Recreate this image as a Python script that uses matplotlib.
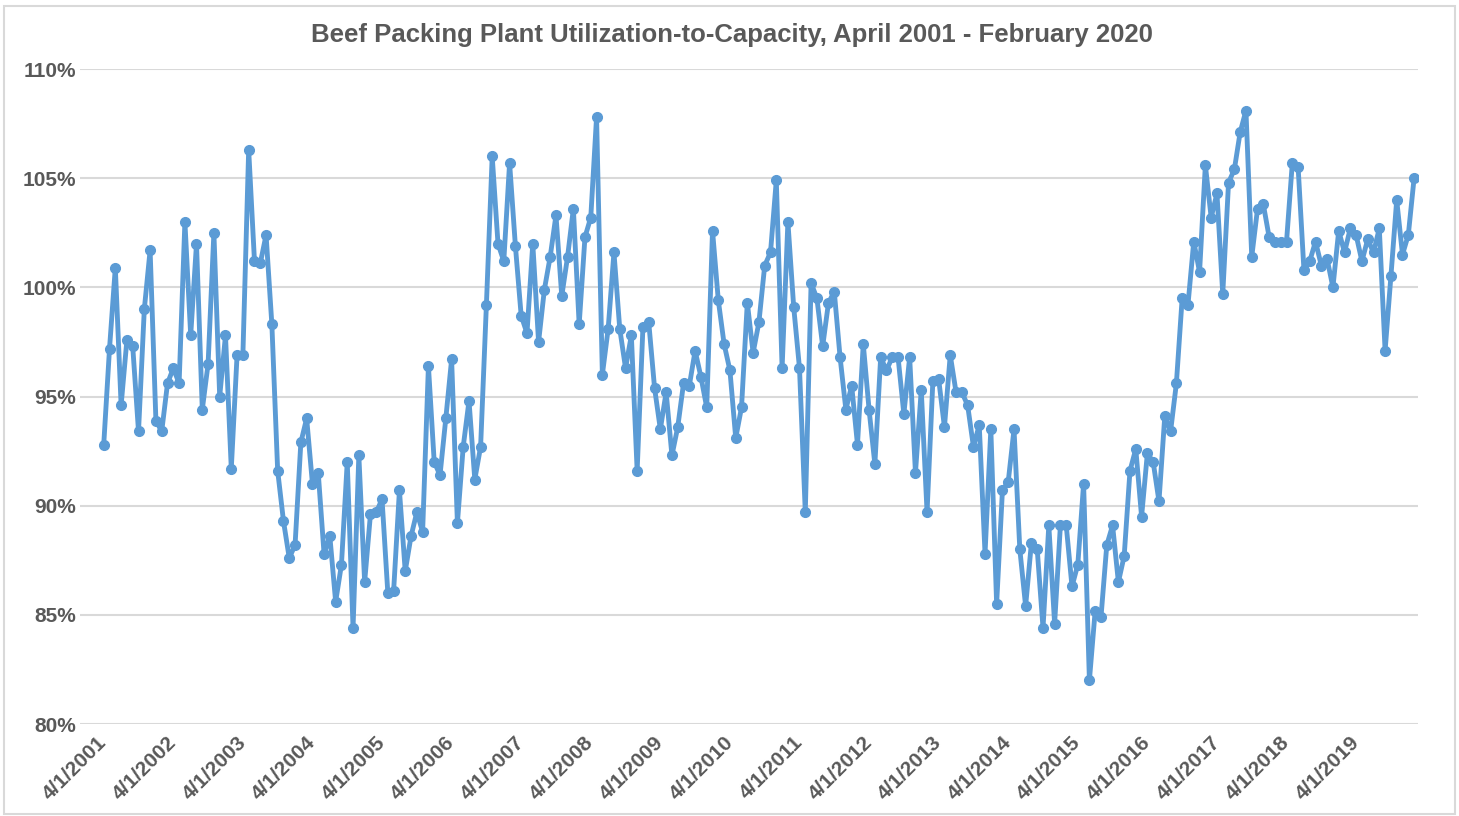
import matplotlib
matplotlib.use("Agg")
import matplotlib.pyplot as plt
from matplotlib.patches import Rectangle
import numpy as np

# monthly utilization-to-capacity (%), April 2001 .. February 2020
util = [
    92.8, 97.2, 100.9, 94.6, 97.6, 97.3, 93.4, 99.0, 101.7, 93.9, 93.4, 95.6,   # 2001-02
    96.3, 95.6, 103.0, 97.8, 102.0, 94.4, 96.5, 102.5, 95.0, 97.8, 91.7, 96.9,  # 2002-03
    96.9, 106.3, 101.2, 101.1, 102.4, 98.3, 91.6, 89.3, 87.6, 88.2, 92.9, 94.0, # 2003-04
    91.0, 91.5, 87.8, 88.6, 85.6, 87.3, 92.0, 84.4, 92.3, 86.5, 89.6, 89.7,     # 2004-05
    90.3, 86.0, 86.1, 90.7, 87.0, 88.6, 89.7, 88.8, 96.4, 92.0, 91.4, 94.0,     # 2005-06
    96.7, 89.2, 92.7, 94.8, 91.2, 92.7, 99.2, 106.0, 102.0, 101.2, 105.7, 101.9, # 2006-07
    98.7, 97.9, 102.0, 97.5, 99.9, 101.4, 103.3, 99.6, 101.4, 103.6, 98.3, 102.3, # 2007-08
    103.2, 107.8, 96.0, 98.1, 101.6, 98.1, 96.3, 97.8, 91.6, 98.2, 98.4, 95.4,  # 2008-09
    93.5, 95.2, 92.3, 93.6, 95.6, 95.5, 97.1, 95.9, 94.5, 102.6, 99.4, 97.4,    # 2009-10
    96.2, 93.1, 94.5, 99.3, 97.0, 98.4, 101.0, 101.6, 104.9, 96.3, 103.0, 99.1, # 2010-11
    96.3, 89.7, 100.2, 99.5, 97.3, 99.3, 99.8, 96.8, 94.4, 95.5, 92.8, 97.4,    # 2011-12
    94.4, 91.9, 96.8, 96.2, 96.8, 96.8, 94.2, 96.8, 91.5, 95.3, 89.7, 95.7,     # 2012-13
    95.8, 93.6, 96.9, 95.2, 95.2, 94.6, 92.7, 93.7, 87.8, 93.5, 85.5, 90.7,     # 2013-14
    91.1, 93.5, 88.0, 85.4, 88.3, 88.0, 84.4, 89.1, 84.6, 89.1, 89.1, 86.3,     # 2014-15
    87.3, 91.0, 82.0, 85.2, 84.9, 88.2, 89.1, 86.5, 87.7, 91.6, 92.6, 89.5,     # 2015-16
    92.4, 92.0, 90.2, 94.1, 93.4, 95.6, 99.5, 99.2, 102.1, 100.7, 105.6, 103.2, # 2016-17
    104.3, 99.7, 104.8, 105.4, 107.1, 108.1, 101.4, 103.6, 103.8, 102.3, 102.1, 102.1, # 2017-18
    102.1, 105.7, 105.5, 100.8, 101.2, 102.1, 101.0, 101.3, 100.0, 102.6, 101.6, 102.7, # 2018-19
    102.4, 101.2, 102.2, 101.6, 102.7, 97.1, 100.5, 104.0, 101.5, 102.4, 105.0,  # 2019-20
]
years = list(range(2001, 2020))
tick_labels = ["4/1/%d" % y for y in years]
yticks = [80, 85, 90, 95, 100, 105, 110]

blue = "#5B9BD5"
grey = "#595959"
grid = "#D9D9D9"

fig = plt.figure(figsize=(14.59, 8.16), dpi=100)
ax = fig.add_axes([0.0548, 0.1127, 0.9172, 0.8027])

x = np.arange(len(util))
ax.plot(x, util, color=blue, lw=3.5, marker="o", markersize=7,
        markerfacecolor=blue, markeredgecolor=blue, zorder=3)

ax.set_ylim(80, 110)
ax.set_xlim(-4.1, len(util) - 1 + 0.7)
ax.set_yticks(yticks)
ax.set_yticklabels(["%d%%" % v for v in yticks])
ax.set_xticks(np.arange(0, len(util), 12)[:len(years)])
ax.set_xticklabels(tick_labels, rotation=45, ha="right", va="center",
                   rotation_mode="anchor")

ax.grid(axis="y", color=grid, lw=1.5)
ax.set_axisbelow(True)
for s in ax.spines.values():
    s.set_visible(False)
ax.tick_params(length=0, colors=grey, labelsize=15)
ax.tick_params(axis="y", pad=3)
ax.tick_params(axis="x", pad=11)
for lab in ax.get_xticklabels() + ax.get_yticklabels():
    lab.set_fontweight("bold")
    lab.set_family("Liberation Sans")

fig.text(0.502, 0.957, "Beef Packing Plant Utilization-to-Capacity, April 2001 - February 2020",
         ha="center", va="center", fontsize=18.5, fontweight="bold", color=grey,
         family="Liberation Sans")

fig.patches.append(Rectangle((0.003, 0.003), 0.994, 0.99, transform=fig.transFigure,
                             fill=False, edgecolor=grid, lw=1.5))

fig.savefig("out.png", dpi=100)
